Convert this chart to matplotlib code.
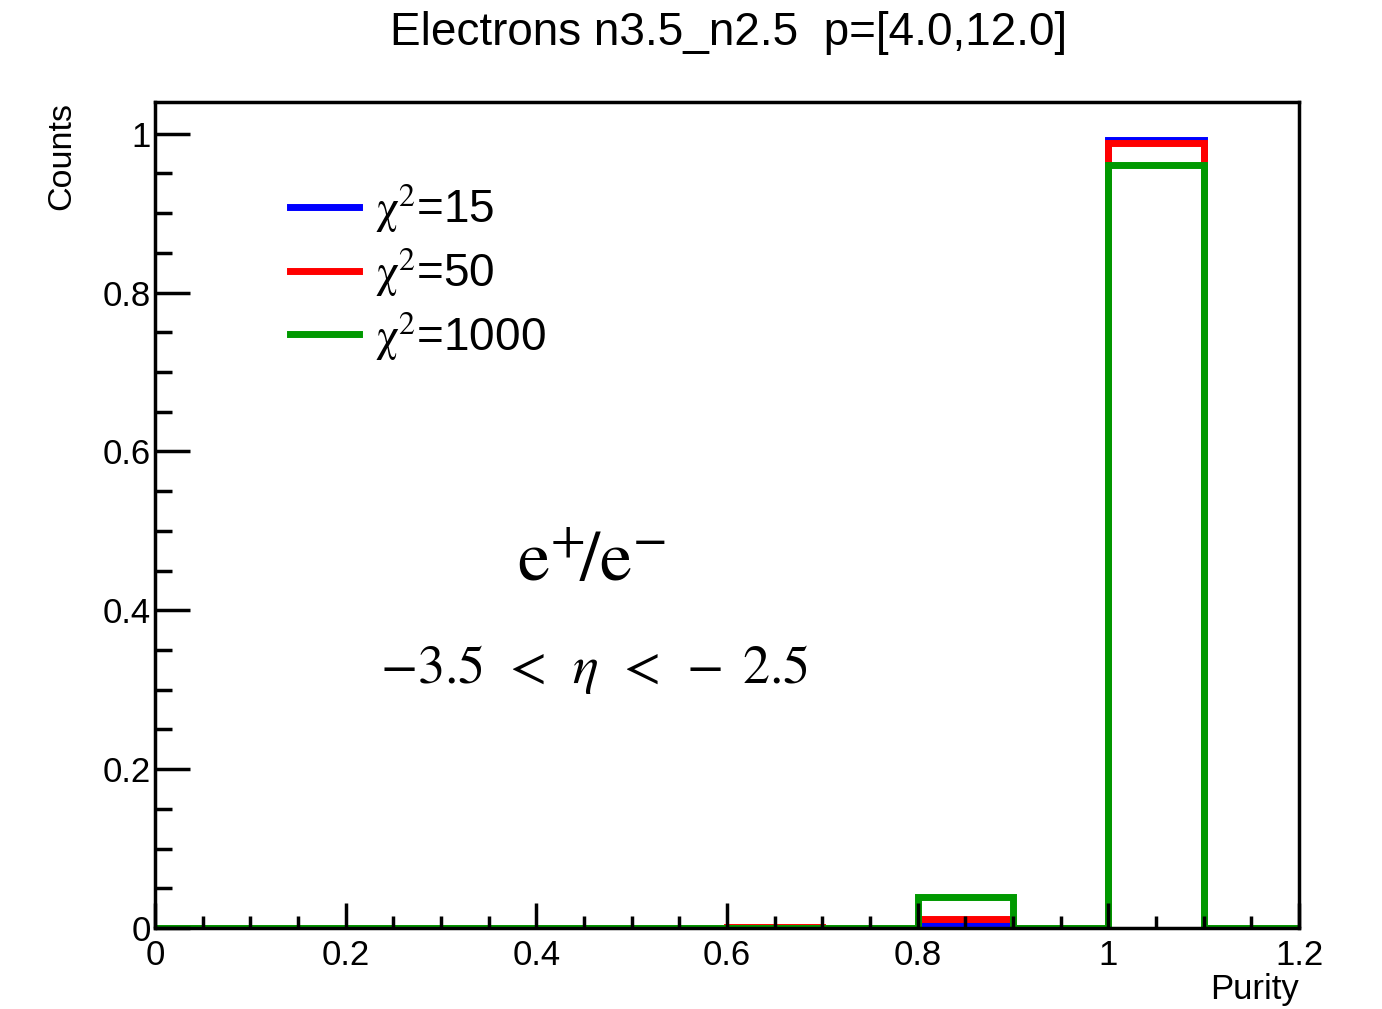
import numpy as np
import matplotlib.pyplot as plt

plt.rcParams['font.family'] = ['Liberation Sans', 'DejaVu Sans']
plt.rcParams['mathtext.fontset'] = 'stix'

# purity histogram, 12 bins of width 0.1 from 0 to 1.2
edges = np.linspace(0, 1.2, 13)
chi15 = [0, 0, 0, 0, 0, 0, 0, 0, 0.006, 0, 0.992, 0]
chi50 = [0, 0, 0, 0, 0, 0, 0.001, 0, 0.0116, 0, 0.988, 0]
chi1000 = [0, 0, 0, 0, 0, 0, 0, 0, 0.0394, 0, 0.9606, 0]
labels = [r'$\mathrm{\chi}^{2}$=15', r'$\mathrm{\chi}^{2}$=50', r'$\mathrm{\chi}^{2}$=1000']
colors = ['#0000ff', '#ff0000', '#009900']

fig = plt.figure(figsize=(13.82, 10.09), dpi=100)
ax = fig.add_axes([0.1122, 0.0803, 0.94 - 0.1122, 0.8989 - 0.0803])

for vals, lab, col in zip([chi15, chi50, chi1000], labels, colors):
    ax.stairs(vals, edges, color=col, lw=5, label=lab, baseline=0)

ax.set_xlim(0, 1.2)
ax.set_ylim(0, 1.04)

ax.set_xticks(np.arange(0, 1.21, 0.2))
ax.set_xticks(np.arange(0, 1.21, 0.05), minor=True)
ax.set_xticklabels(['0', '0.2', '0.4', '0.6', '0.8', '1', '1.2'])
ax.set_yticks(np.arange(0, 1.01, 0.2))
ax.set_yticks(np.arange(0, 1.01, 0.05), minor=True)
ax.set_yticklabels(['0', '0.2', '0.4', '0.6', '0.8', '1'])

ax.tick_params(axis='both', which='both', direction='in', width=2.5,
               top=False, right=False, labelsize=25)
ax.tick_params(axis='x', which='major', length=18, pad=8)
ax.tick_params(axis='x', which='minor', length=9)
ax.tick_params(axis='y', which='major', length=25, pad=3)
ax.tick_params(axis='y', which='minor', length=12)
for s in ax.spines.values():
    s.set_linewidth(2.5)

ax.set_xlabel('Purity', fontsize=25, loc='right')
ax.xaxis.set_label_coords(1.0, -0.055)
ax.set_ylabel('Counts', fontsize=24.5, loc='top')
ax.yaxis.set_label_coords(-0.068, 1.0)

ax.legend(loc='upper left', bbox_to_anchor=(0.118, 0.902), frameon=False,
          fontsize=33, handlelength=1.5, handletextpad=0.35, labelspacing=0.25,
          borderpad=0, borderaxespad=0)

ax.text(0.458, 0.46, r'$\mathrm{e}^{+}\!/\mathrm{e}^{-}$', fontsize=52,
        ha='center', va='center')
ax.text(0.461, 0.325, r'$-3.5\;\,<\;\,\eta\;\,<\;-\;2.5$', fontsize=39,
        ha='center', va='center')

fig.text(0.527, 0.967, 'Electrons n3.5_n2.5  p=[4.0,12.0]', fontsize=33,
         ha='center', va='center')

fig.savefig('out.png', dpi=100)
